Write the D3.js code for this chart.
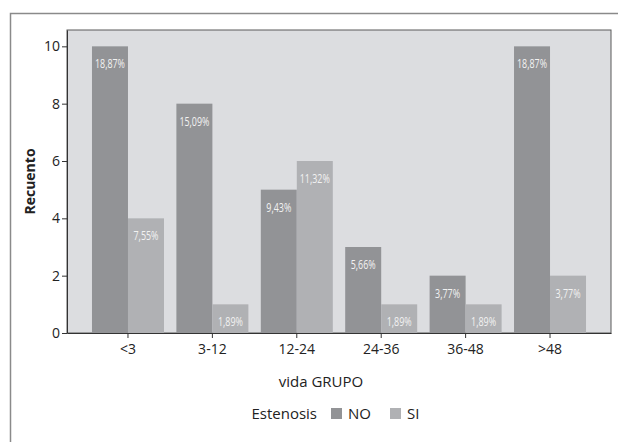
<!DOCTYPE html>
<html>
<head>
<meta charset="utf-8">
<script src="https://cdn.jsdelivr.net/npm/d3@7"></script>
<style>
  body { margin: 0; background: #fff; }
  svg { display: block; font-family: 'Open Sans', 'DejaVu Sans', sans-serif; }
</style>
</head>
<body>
<div class="canvas"></div>
<script>
// data
const categories = ['<3', '3-12', '12-24', '24-36', '36-48', '>48']
const seriesNames = ['NO', 'SI']
const noValues = [10, 8, 5, 3, 2, 10]
const siValues = [4, 1, 6, 1, 1, 2]
const noLabels = ['18,87%', '15,09%', '9,43%', '5,66%', '3,77%', '18,87%']
const siLabels = ['7,55%', '1,89%', '11,32%', '1,89%', '1,89%', '3,77%']
const yTicks = [0, 2, 4, 6, 8, 10]
const colors = { NO: '#929396', SI: '#b0b1b4' }

const width = 618
const height = 442

const svg = d3.select('.canvas')
  .append('svg')
  .attr('width', width)
  .attr('height', height)

// outer frame (top and left lines only)
svg.append('path')
  .attr('d', `M10.5,${height} V13.5 H${width}`)
  .attr('fill', 'none')
  .attr('stroke', '#8a8a8a')
  .attr('stroke-width', 1.5)

const plot = { left: 67, right: 611, top: 30, bottom: 333 }

const x = d3.scaleBand()
  .domain(categories)
  .range([plot.left, plot.right])
  .paddingInner(0.147)
  .paddingOuter(0.296)

const x1 = d3.scaleBand()
  .domain(seriesNames)
  .range([0, x.bandwidth()])

const y = d3.scaleLinear()
  .domain([0, 10.57])
  .range([plot.bottom, plot.top])

// background
svg.append('rect')
  .attr('x', plot.left)
  .attr('y', plot.top)
  .attr('width', plot.right - plot.left)
  .attr('height', plot.bottom - plot.top)
  .attr('fill', '#dcdde0')
  .attr('stroke', '#5a5a5a')
  .attr('stroke-width', 1)

const rows = categories.map((c, i) => ({
  cat: c,
  values: [
    { key: 'NO', value: noValues[i], label: noLabels[i] },
    { key: 'SI', value: siValues[i], label: siLabels[i] }
  ]
}))

const groups = svg.selectAll('g.grp')
  .data(rows)
  .enter()
  .append('g')
  .attr('class', 'grp')
  .attr('transform', d => `translate(${x(d.cat)},0)`)

groups.selectAll('rect')
  .data(d => d.values)
  .enter()
  .append('rect')
  .attr('x', d => x1(d.key))
  .attr('y', d => y(d.value))
  .attr('width', x1.bandwidth())
  .attr('height', d => y(0) - y(d.value))
  .attr('fill', d => colors[d.key])

// percentage labels, squeezed to a condensed look
groups.selectAll('text')
  .data(d => d.values)
  .enter()
  .append('text')
  .attr('x', d => x1(d.key) + x1.bandwidth() / 2)
  .attr('y', d => y(d.value) + 22)
  .attr('text-anchor', 'middle')
  .attr('fill', '#f2f2f2')
  .attr('textLength', d => d.label.length * 5)
  .attr('lengthAdjust', 'spacingAndGlyphs')
  .style('font-family', "'Open Sans', sans-serif")
  .style('font-size', '12px')
  .text(d => d.label)

// axes
const xAxis = d3.axisBottom(x).tickSize(5).tickSizeOuter(0)
const yAxis = d3.axisLeft(y).tickValues(yTicks).tickSize(5).tickSizeOuter(0)

const xAxisGroup = svg.append('g')
  .attr('transform', `translate(0, ${plot.bottom})`)
  .call(xAxis)
const yAxisGroup = svg.append('g')
  .attr('transform', `translate(${plot.left}, 0)`)
  .call(yAxis)

xAxisGroup.select('.domain').attr('stroke', '#333')
yAxisGroup.select('.domain').attr('stroke', '#333')
svg.selectAll('.tick line').attr('stroke', '#333')
svg.selectAll('.tick text')
  .attr('fill', '#222')
  .style('font-size', '14px')
  .style('font-family', "'Open Sans', sans-serif")
xAxisGroup.selectAll('.tick text').attr('dy', '0.95em')
yAxisGroup.selectAll('.tick text').attr('x', -7)

// axis titles
svg.append('text')
  .attr('transform', `translate(35, ${(plot.top + plot.bottom) / 2}) rotate(-90)`)
  .attr('text-anchor', 'middle')
  .attr('fill', '#222')
  .style('font-size', '14px')
  .style('font-weight', 'bold')
  .text('Recuento')

svg.append('text')
  .attr('x', 321)
  .attr('y', 387)
  .attr('text-anchor', 'middle')
  .attr('fill', '#222')
  .style('font-size', '15px')
  .text('vida GRUPO')

// legend
const legend = svg.append('g').attr('transform', 'translate(0, 419)')
legend.append('text')
  .attr('x', 317)
  .attr('y', 0)
  .attr('text-anchor', 'end')
  .attr('fill', '#222')
  .style('font-size', '15px')
  .text('Estenosis')

const legendX = [331, 390]
seriesNames.forEach((s, i) => {
  legend.append('rect')
    .attr('x', legendX[i])
    .attr('y', -11)
    .attr('width', 11)
    .attr('height', 11)
    .attr('fill', colors[s])
  legend.append('text')
    .attr('x', legendX[i] + 17)
    .attr('y', 0)
    .attr('fill', '#222')
    .style('font-size', '15px')
    .text(s)
})
</script>
</body>
</html>
